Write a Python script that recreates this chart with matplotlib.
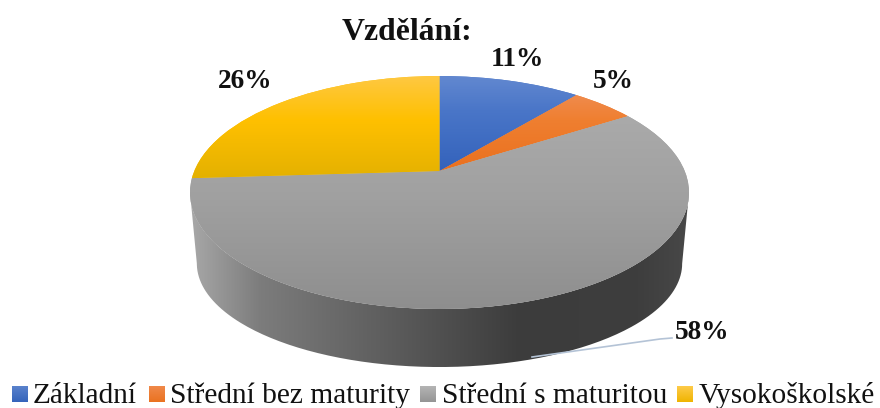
import numpy as np
import matplotlib
matplotlib.use('Agg')
import matplotlib.pyplot as plt
from matplotlib.colors import LinearSegmentedColormap
from matplotlib.path import Path
from matplotlib.transforms import Transform

categories = ['Základní', 'Střední bez maturity', 'Střední s maturitou', 'Vysokoškolské']
values = [11, 5, 58, 26]
labels = ['11%', '5%', '58%', '26%']


class Persp(Transform):
    # tilted disc: unit circle -> pixel coords of the chart
    input_dims = 2
    output_dims = 2

    def __init__(self, cx, cy, a, b, k):
        super().__init__()
        self.cx, self.cy, self.a, self.b, self.k = cx, cy, a, b, k

    def transform_non_affine(self, xy):
        xy = np.asarray(xy, dtype=float)
        d = 1 + self.k * xy[:, 1]
        return np.column_stack([self.cx + self.a * xy[:, 0] / d,
                                self.cy - self.b * xy[:, 1] / d])


fig = plt.figure(figsize=(8.8, 4.08), dpi=100)
ax = fig.add_axes([0, 0, 1, 1])
plt.rcParams['font.family'] = ['Liberation Serif', 'DejaVu Serif']


def gradient(stops, box, clip=None, clip_tr=None, vertical=True, z=3):
    # stops are (pixel, colour) along the gradient direction
    x0, x1, y0, y1 = box
    lo, hi = (y0, y1) if vertical else (x0, x1)
    cm = LinearSegmentedColormap.from_list('g', [((p - lo) / (hi - lo), c) for p, c in stops])
    g = np.linspace(0, 1, 256)
    arr = g[:, None] if vertical else g[None, :]
    im = ax.imshow(arr, cmap=cm, vmin=0, vmax=1, extent=[x0, x1, y1, y0], origin='upper',
                   aspect='auto', interpolation='bilinear', zorder=z)
    if clip is not None:
        if clip_tr is None:
            im.set_clip_path(clip)
        else:
            im.set_clip_path(clip, transform=clip_tr)
    return im


top = Persp(439.5, 171, 245.2, 112.5, 0.1845)
low = Persp(439.5, 244.4, 238.5, 100, 0.1845)

wedges, _ = ax.pie(values, startangle=90, counterclock=False, radius=1,
                   colors=['#4472c4', '#ed7d31', '#a5a5a5', '#ffc000'],
                   wedgeprops={'linewidth': 0})
ax.set_aspect('auto')
for w in wedges:
    w.set_transform(top + ax.transData)
    w.set_zorder(2)

# side wall of the disc
th = np.radians(np.linspace(190.6, 349.4, 200))
circ = np.column_stack([np.cos(th), np.sin(th)])
wall = Path(np.vstack([top.transform(circ), low.transform(circ)[::-1]]), closed=False)
gradient([(190, '#a8a8a8'), (260, '#7c7c7c'), (400, '#5a5a5a'), (520, '#3c3c3c'),
          (640, '#3e3e3e'), (690, '#484848')],
         (190, 690, 170, 370), clip=wall, clip_tr=ax.transData, vertical=False, z=1)

# top surface of each slice
surface = [
    [(76, '#6288d0'), (110, '#4a76c8'), (172, '#3362bb')],
    [(92, '#f08c50'), (120, '#ef7f30'), (172, '#ea701e')],
    [(115, '#aaaaaa'), (200, '#a0a0a0'), (310, '#8e8e8e')],
    [(76, '#fec842'), (120, '#ffc000'), (182, '#e2b000')],
]
for w, stops in zip(wedges, surface):
    gradient(stops, (185, 695, stops[0][0], stops[-1][0]), clip=w, z=3)

# legend, drawn by hand to keep the gradient squares
key_x = [12, 149, 420, 677]
text_x = [33, 170, 442, 699]
key_stops = [
    [(386, '#5a82cc'), (402, '#3564bb')],
    [(386, '#f0894a'), (402, '#ea7220')],
    [(386, '#b4b4b4'), (402, '#959595')],
    [(386, '#fecb4a'), (402, '#efb400')],
]
for name, kx, tx, stops in zip(categories, key_x, text_x, key_stops):
    gradient(stops, (kx, kx + 16, 386, 402), z=3)
    ax.text(tx, 403, name, fontsize=21.2, va='baseline', ha='left', color='#111111')

ax.text(407.5, 40, 'Vzdělání:', fontsize=22.9, fontweight='bold', ha='center', va='baseline', color='#111111')
label_pos = [(517, 66), (613, 88), (702, 339), (245.5, 88)]
for txt, (lx, ly) in zip(labels, label_pos):
    ax.text(lx, ly, txt, fontsize=19.7, fontweight='bold', ha='center', va='baseline', color='#111111')

# leader line for the big slice
ax.plot([532, 660, 672], [357, 339, 338], color='#b4c3d6', lw=1.2, zorder=4)

ax.set_xlim(0, 880)
ax.set_ylim(408, 0)
ax.axis('off')
fig.savefig('out.png', dpi=100, facecolor='white')
